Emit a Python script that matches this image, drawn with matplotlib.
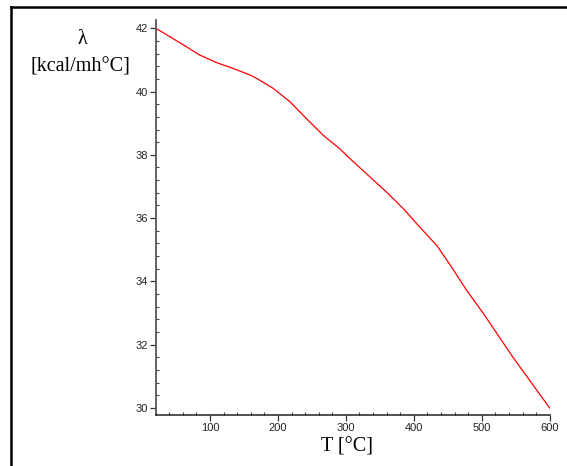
import matplotlib
matplotlib.use("Agg")
import matplotlib.pyplot as plt
from matplotlib.lines import Line2D
from matplotlib.ticker import MultipleLocator

# Thermal conductivity versus temperature
T = [20, 41, 61, 85, 110, 134, 159, 169, 193, 218, 242, 267, 291, 309, 336, 360,
     385, 409, 434, 456, 477, 502, 546, 600]
lam = [42.0, 41.73, 41.47, 41.15, 40.91, 40.73, 40.52, 40.41, 40.1, 39.67, 39.14,
       38.61, 38.19, 37.82, 37.29, 36.82, 36.29, 35.71, 35.13, 34.44, 33.74, 33.0,
       31.6, 30.0]
x_ticks = [100, 200, 300, 400, 500, 600]
y_ticks = [30, 32, 34, 36, 38, 40, 42]

W, H = 567, 466
fig = plt.figure(figsize=(W / 100, H / 100), dpi=100)
ax = fig.add_axes([155.7 / W, 1 - 415 / H, (549.7 - 155.7) / W, (415 - 20) / H])

ax.plot(T, lam, color="#ff0000", linewidth=0.9)

ax.set_xlim(20, 600)
ax.set_ylim(29.78, 42.26)
ax.set_xticks(x_ticks)
ax.set_yticks(y_ticks)
ax.xaxis.set_minor_locator(MultipleLocator(20))
ax.yaxis.set_minor_locator(MultipleLocator(0.4))

for side in ("top", "right"):
    ax.spines[side].set_visible(False)
ax.spines["left"].set_color("#555555")
ax.spines["left"].set_linewidth(1.3)
ax.spines["bottom"].set_color("#222222")
ax.spines["bottom"].set_linewidth(1.1)

ax.tick_params(which="major", direction="out", length=4, width=0.9, color="#333333",
               labelsize=8, pad=1.5, labelcolor="#222222")
ax.tick_params(which="minor", direction="in", length=2, width=0.8, color="#444444")
for lbl in ax.get_xticklabels() + ax.get_yticklabels():
    lbl.set_fontfamily("Liberation Sans")

fig.text(346.7 / W, 1 - 446.7 / H, "T [°C]", family="Liberation Serif",
         fontsize=14.5, ha="center", va="center")
fig.text(82 / W, 1 - 40 / H, "λ", family="Liberation Serif",
         fontsize=14.5, ha="center", va="center")
fig.text(80 / W, 1 - 66.7 / H, "[kcal/mh°C]", family="Liberation Serif",
         fontsize=14.5, ha="center", va="center")

# frame lines along the top and left edges
fx, fy = 11 / W, 1 - 7 / H
fig.add_artist(Line2D([fx, fx], [0, fy], transform=fig.transFigure, color="black", linewidth=1.8))
fig.add_artist(Line2D([fx, 1], [fy, fy], transform=fig.transFigure, color="black", linewidth=1.8))

fig.savefig("out.png", dpi=100)
